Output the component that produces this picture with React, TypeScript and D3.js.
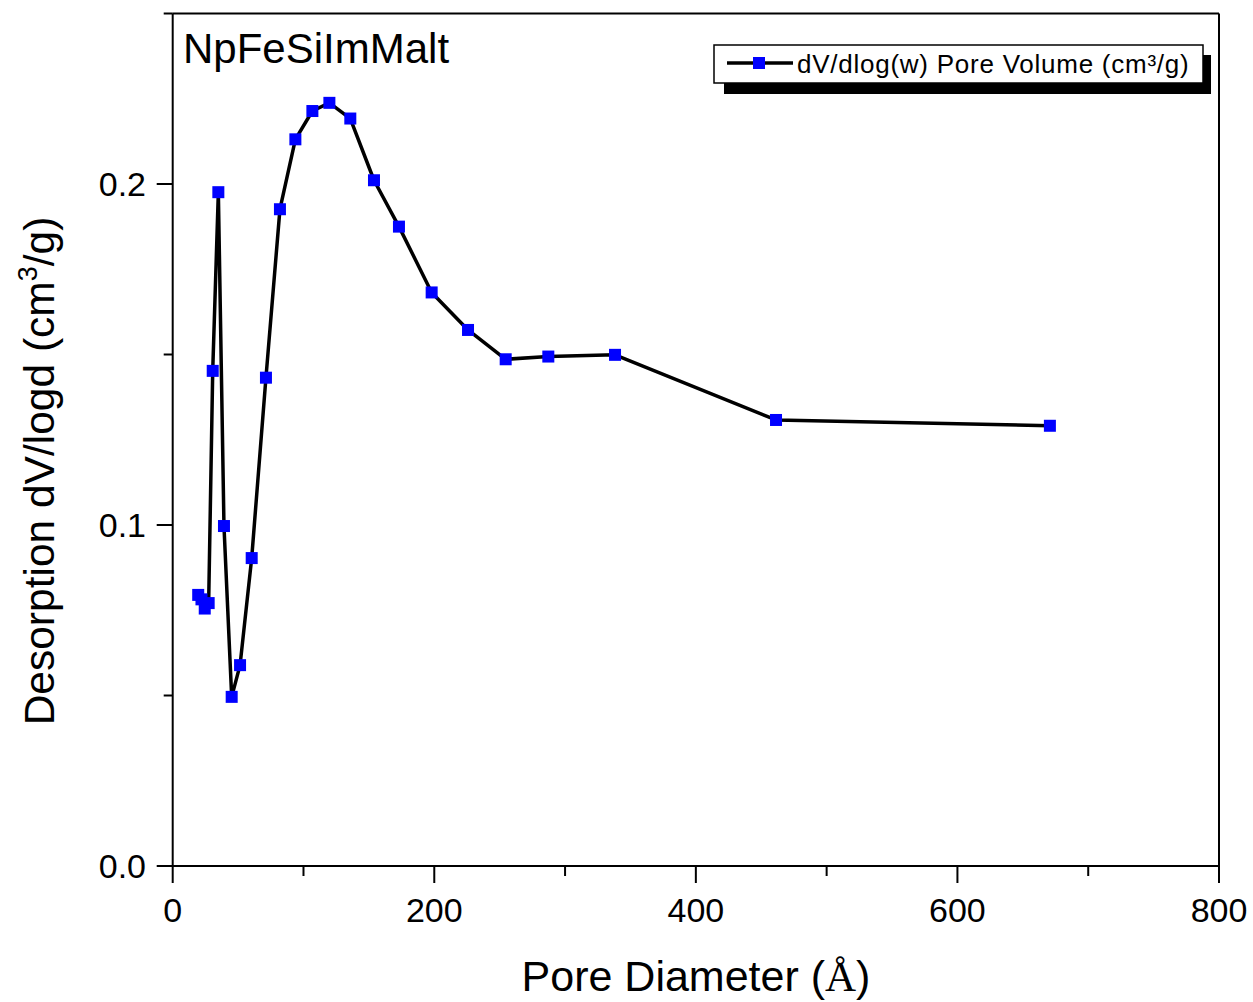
import React from "react";
import * as d3 from "d3";

const poreDiameter = [19.5, 22, 24.5, 27.5, 30.6, 34.9, 39.2, 45.1, 51.5, 60.4, 71.3, 82.0, 93.8, 106.8, 119.8, 135.8, 153.9, 173.0, 198.0, 225.8, 254.6, 287.2, 338.2, 461.3, 670.7];
const dvdlogd = [0.0795, 0.0782, 0.0755, 0.0771, 0.1452, 0.1976, 0.0997, 0.0496, 0.0589, 0.0903, 0.1432, 0.1926, 0.2131, 0.2214, 0.2238, 0.2192, 0.2011, 0.1875, 0.1682, 0.1572, 0.1486, 0.1494, 0.1499, 0.1308, 0.1291];
const xMajorTicks = [0, 200, 400, 600, 800];
const xMinorTicks = [100, 300, 500, 700];
const yMajorTicks = [0, 0.1, 0.2];
const yMinorTicks = [0.05, 0.15, 0.25];
const sampleName = "NpFeSiImMalt";
const legendLabel = "dV/dlog(w) Pore Volume (cm\u00b3/g)";

const W = 1253;
const H = 1002;
const L = 172.7, R = 1219, T = 13.5, B = 866;
const SANS = "'Liberation Sans', Arial, sans-serif";

export default function App() {
  const x = d3.scaleLinear().domain([0, 800]).range([L, R]);
  const y = d3.scaleLinear().domain([0, 0.25]).range([B, T]);
  const pts = poreDiameter.map((d, i) => [d, dvdlogd[i]] as [number, number]);
  const line = d3.line<[number, number]>().x((d) => x(d[0])).y((d) => y(d[1]));
  const ms = 12;

  return (
    <svg width={W} height={H} style={{ position: "absolute", left: 0, top: 0, background: "#fff" }} fontFamily={SANS}>
      <rect x={0} y={0} width={W} height={H} fill="#fff" />
      {/* frame */}
      <line x1={L} x2={R} y1={B} y2={B} stroke="#000" strokeWidth={2} />
      <line x1={L} x2={R} y1={T} y2={T} stroke="#000" strokeWidth={2} />
      <line x1={L} x2={L} y1={T} y2={B} stroke="#000" strokeWidth={2} />
      <line x1={R} x2={R} y1={T} y2={B} stroke="#000" strokeWidth={2} />
      {/* x ticks */}
      {xMajorTicks.map((t) => (
        <g key={"xM" + t}>
          <line x1={x(t)} x2={x(t)} y1={B} y2={B + 17} stroke="#000" strokeWidth={2} />
          <text x={x(t)} y={922} fontSize={34} textAnchor="middle" fill="#000">{t}</text>
        </g>
      ))}
      {xMinorTicks.map((t) => (
        <line key={"xm" + t} x1={x(t)} x2={x(t)} y1={B} y2={B + 10} stroke="#000" strokeWidth={2} />
      ))}
      {/* y ticks */}
      {yMajorTicks.map((t) => (
        <g key={"yM" + t}>
          <line x1={L - 16} x2={L} y1={y(t)} y2={y(t)} stroke="#000" strokeWidth={2} />
          <text x={146} y={y(t) + 12} fontSize={34} textAnchor="end" fill="#000">{t.toFixed(1)}</text>
        </g>
      ))}
      {yMinorTicks.map((t) => (
        <line key={"ym" + t} x1={L - 9} x2={L} y1={y(t)} y2={y(t)} stroke="#000" strokeWidth={2} />
      ))}
      {/* axis titles */}
      <text x={696} y={991} fontSize={43} textAnchor="middle" fill="#000">
        Pore Diameter (<tspan fontFamily="'Liberation Serif', 'Times New Roman', serif">Å</tspan>)
      </text>
      <text transform="translate(54,471) rotate(-90)" fontSize={42.5} textAnchor="middle" fill="#000">
        Desorption dV/logd (cm<tspan dy={-17} fontSize={27}>3</tspan><tspan dy={17}>/g)</tspan>
      </text>
      {/* sample name */}
      <text x={183} y={63} fontSize={42} fill="#000">{sampleName}</text>
      {/* data */}
      <path d={line(pts) || ""} fill="none" stroke="#000" strokeWidth={3.5} strokeLinejoin="round" />
      {pts.map((p, i) => (
        <rect key={i} x={x(p[0]) - ms / 2} y={y(p[1]) - ms / 2} width={ms} height={ms} fill="#0000ff" />
      ))}
      {/* legend */}
      <rect x={724} y={55} width={487} height={39} fill="#000" />
      <rect x={714} y={45} width={489} height={38} fill="#fff" stroke="#000" strokeWidth={1.5} />
      <line x1={727} x2={793} y1={63} y2={63} stroke="#000" strokeWidth={3.5} />
      <rect x={759 - ms / 2} y={63 - ms / 2} width={ms} height={ms} fill="#0000ff" />
      <text x={797} y={73} fontSize={26} letterSpacing={0.75} fill="#000">{legendLabel}</text>
    </svg>
  );
}
